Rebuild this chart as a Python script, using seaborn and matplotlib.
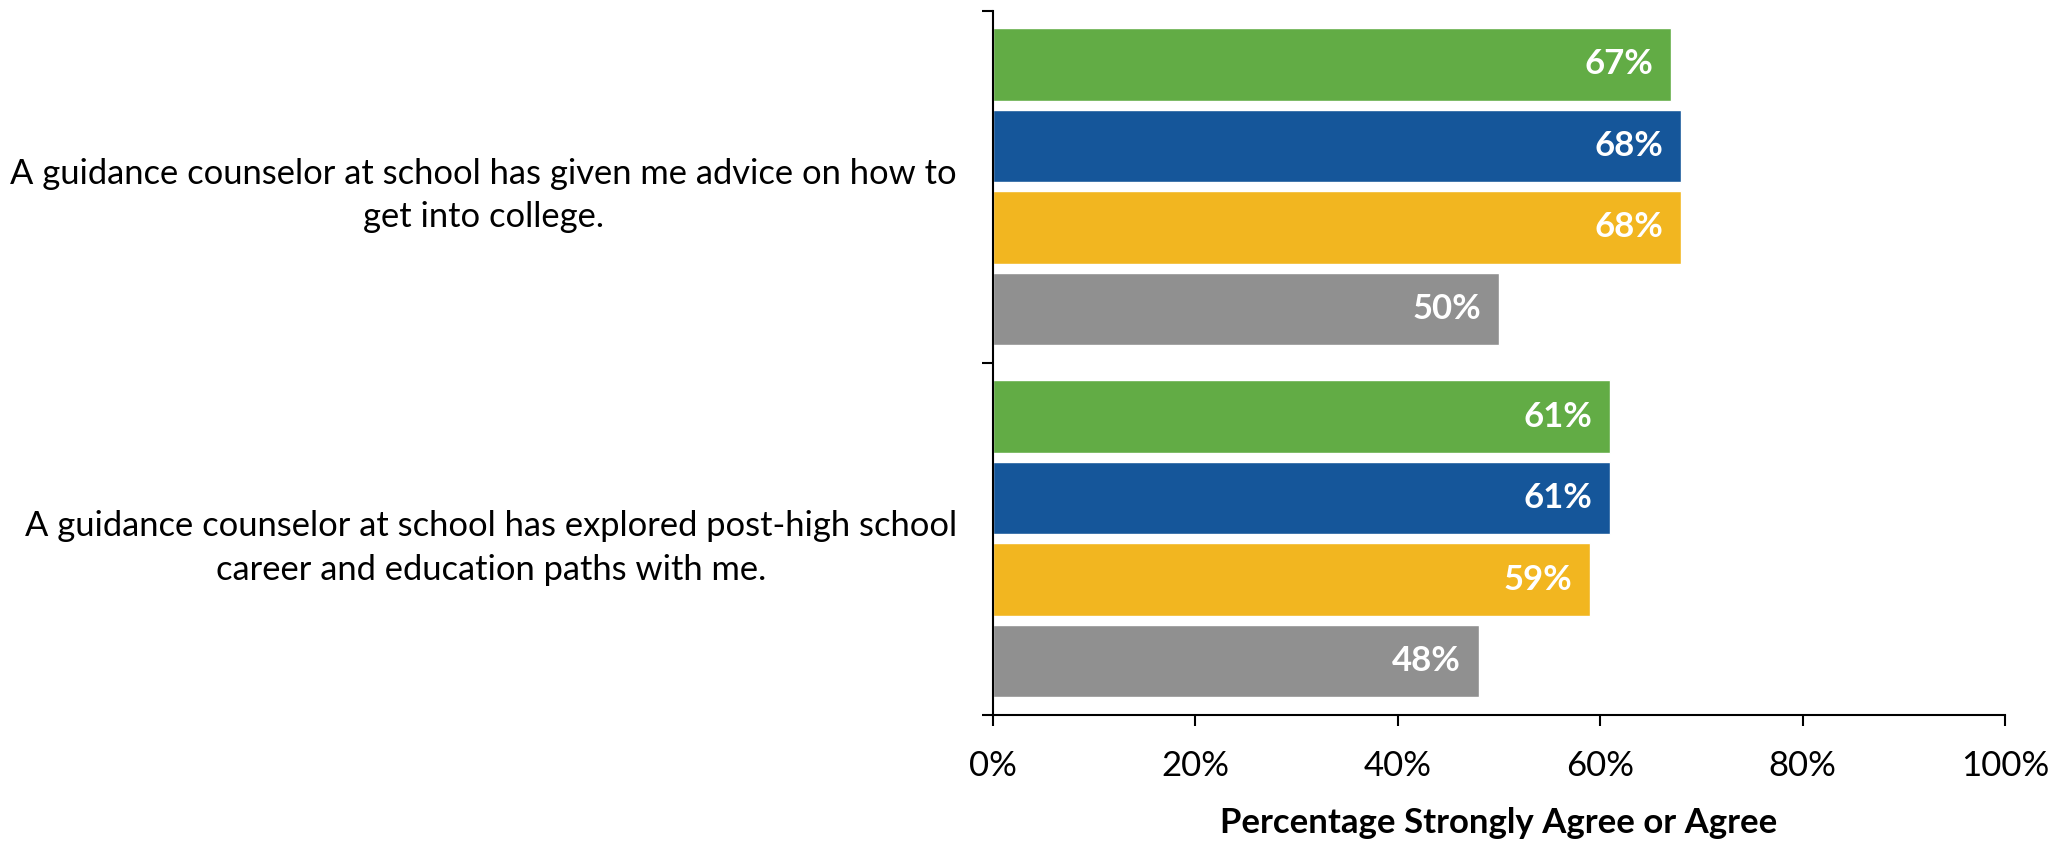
import numpy as np
import pandas as pd
import matplotlib
matplotlib.use("Agg")
import matplotlib.pyplot as plt
import seaborn as sns
from matplotlib.ticker import FixedLocator, PercentFormatter

categories = [
    "A guidance counselor at school has given me advice on how to\nget into college.",
    "A guidance counselor at school has explored post-high school\ncareer and education paths with me.",
]
series = ["Series 1", "Series 2", "Series 3", "Series 4"]
values_series1 = [67, 61]
values_series2 = [68, 61]
values_series3 = [68, 59]
values_series4 = [50, 48]
colors = ["#62AC45", "#15569A", "#F2B620", "#909090"]
xticks = [0, 20, 40, 60, 80, 100]
xlabel = "Percentage Strongly Agree or Agree"

all_values = [values_series1, values_series2, values_series3, values_series4]
rows = []
for s, vals in zip(series, all_values):
    for c, v in zip(categories, vals):
        rows.append({"statement": c, "series": s, "value": v})
df = pd.DataFrame(rows)

sns.set_theme(style="ticks")
plt.rcParams["font.family"] = ["Lato", "DejaVu Sans"]

fig = plt.figure(figsize=(20.66, 8.41), dpi=100)
ax = fig.add_axes([0.4806, 0.1498, 0.4899, 0.8377])
sns.barplot(data=df, y="statement", x="value", hue="series", order=categories,
            hue_order=series, palette=colors, orient="h", width=0.925, gap=0.11,
            saturation=1, legend=False, ax=ax)

ax.set_xlim(0, 100)
ax.set_ylim(1.5, -0.5)
ax.set_xticks(xticks)
ax.xaxis.set_major_formatter(PercentFormatter(decimals=0))
ax.set_yticks(range(len(categories)))
ax.set_yticklabels(categories)
for t in ax.get_yticklabels():
    t.set_multialignment("center")
    t.set_linespacing(1.45)
ax.yaxis.set_minor_locator(FixedLocator([-0.5, 0.5, 1.5]))
ax.tick_params(axis="y", which="major", length=0, pad=26, labelsize=24.8, colors="black")
ax.tick_params(axis="y", which="minor", left=True, length=8, width=1.5, color="black")
ax.tick_params(axis="x", which="major", length=8, width=1.5, pad=17, labelsize=25,
               colors="black")
ax.set_ylabel("")
ax.set_xlabel(xlabel, fontsize=25, fontweight="bold", labelpad=18, color="black")
for side in ["top", "right"]:
    ax.spines[side].set_visible(False)
for side in ["left", "bottom"]:
    ax.spines[side].set_linewidth(1.5)
    ax.spines[side].set_color("black")

for cont in ax.containers:
    for rect in cont:
        w = rect.get_width()
        ax.annotate(f"{w:.0f}%", xy=(w, rect.get_y() + rect.get_height() / 2),
                    xytext=(-18, 0), textcoords="offset pixels", ha="right",
                    va="center", color="white", fontweight="bold", fontsize=25)

fig.savefig("out.png", dpi=100)
